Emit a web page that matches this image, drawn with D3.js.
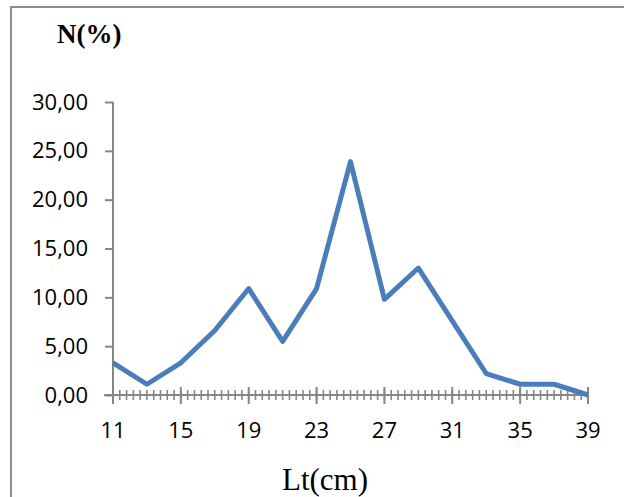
<!DOCTYPE html>
<html><head><meta charset="utf-8">
<script src="https://cdn.jsdelivr.net/npm/d3@7"></script>
<style>html,body{margin:0;padding:0;background:#fff;overflow:hidden;}svg{display:block;}</style>
</head><body>
<svg id="chart" width="624" height="497"></svg>
<script>
const lengths = [11,13,15,17,19,21,23,25,27,29,31,33,35,37,39];
const percents = [3.3,1.1,3.3,6.6,10.9,5.5,10.9,23.9,9.8,13.0,7.6,2.2,1.1,1.1,0.0];
const xTickLabels = [11,15,19,23,27,31,35,39];
const yTickValues = [0,5,10,15,20,25,30];

const svg = d3.select("#chart");
svg.append("rect").attr("x",11).attr("y",7).attr("width",640).attr("height",520)
  .attr("fill","none").attr("stroke","#8c8c8c").attr("stroke-width",2);

const x = d3.scaleLinear().domain([11,39]).range([113,588]);
const y = d3.scaleLinear().domain([0,30]).range([395,102]);
const axisColor = "#868686";
const fmt = v => v.toFixed(2).replace(".", ",");

// y axis
const ya = svg.append("g").attr("transform","translate(113,0)")
  .call(d3.axisLeft(y).tickValues(yTickValues).tickFormat(fmt).tickSize(8).tickPadding(17));
ya.select(".domain").attr("stroke",axisColor).attr("stroke-width",2).attr("d","M0,102V395");
ya.selectAll(".tick line").attr("stroke",axisColor).attr("stroke-width",2);
ya.selectAll(".tick text").attr("font-family","'Open Sans', sans-serif").attr("font-size",22).attr("fill","#000");

// x axis
const xa = svg.append("g").attr("transform","translate(0,395)");
xa.append("line").attr("x1",x(11)-9).attr("x2",x(39)).attr("y1",0).attr("y2",0)
  .attr("stroke",axisColor).attr("stroke-width",2);
const minor = d3.range(0,71).map(i => 11 + i*0.4);
xa.selectAll("line.minor").data(minor).join("line").attr("class","minor")
  .attr("x1",d=>x(d)).attr("x2",d=>x(d)).attr("y1",-5).attr("y2",5)
  .attr("stroke",axisColor).attr("stroke-width",1.6);
xa.selectAll("line.major").data(xTickLabels).join("line").attr("class","major")
  .attr("x1",d=>x(d)).attr("x2",d=>x(d)).attr("y1",-8).attr("y2",9)
  .attr("stroke",axisColor).attr("stroke-width",2);
xa.selectAll("text").data(xTickLabels).join("text")
  .attr("x",d=>x(d)).attr("y",43).attr("text-anchor","middle")
  .attr("font-family","'Open Sans', sans-serif").attr("font-size",22).attr("fill","#000")
  .text(d=>d);

// line
svg.append("path").datum(lengths.map((l,i)=>[l,percents[i]]))
  .attr("fill","none").attr("stroke","#4a7ebb").attr("stroke-width",5)
  .attr("stroke-linejoin","round")
  .attr("d", d3.line().x(d=>x(d[0])).y(d=>y(d[1])));

// titles
svg.append("text").attr("x",57).attr("y",43).attr("font-family","'Liberation Serif', serif")
  .attr("font-weight","bold").attr("font-size",27).text("N(%)");
svg.append("text").attr("x",325).attr("y",490).attr("text-anchor","middle")
  .attr("font-family","'Liberation Serif', serif").attr("font-size",31).text("Lt(cm)");
</script>
</body></html>
